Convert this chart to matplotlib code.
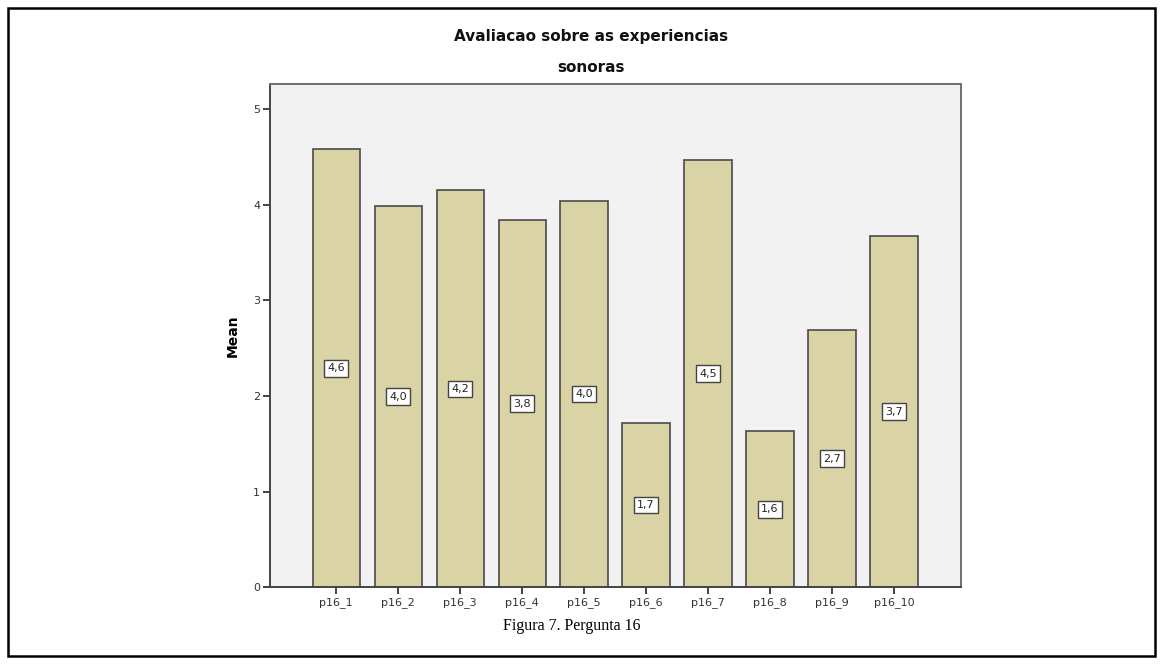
import matplotlib.pyplot as plt
from matplotlib.patches import Rectangle

# Mean score per item of question 16
items = ['p16_1', 'p16_2', 'p16_3', 'p16_4', 'p16_5',
         'p16_6', 'p16_7', 'p16_8', 'p16_9', 'p16_10']
means = [4.58, 3.99, 4.15, 3.84, 4.04, 1.72, 4.47, 1.63, 2.69, 3.67]

bar_color = '#d9d3a5'
edge_color = '#4a4a4a'
spine_color = '#707070'

fig = plt.figure(figsize=(11.63, 6.66), dpi=100)

# outer frame around the whole figure
fig.patches.append(Rectangle((8 / 1163, 1 - 656 / 666), 1147 / 1163, 648 / 666,
                             transform=fig.transFigure, fill=False,
                             edgecolor='black', linewidth=1.8))

ax = fig.add_axes([0.2322, 0.1179, 0.5941, 0.756])
ax.set_facecolor('#f2f2f2')

x = list(range(len(items)))
ax.bar(x, means, width=0.76, color=bar_color, edgecolor=edge_color, linewidth=1.2, zorder=2)

# value boxes at half bar height
for xi, m in zip(x, means):
    ax.text(xi, m / 2, f'{m:.1f}'.replace('.', ','), ha='center', va='center',
            fontsize=8, color='#222222', zorder=3,
            bbox=dict(boxstyle='square,pad=0.3', facecolor='white',
                      edgecolor='#444444', linewidth=1.0))

ax.set_xlim(-1.065, 10.08)
ax.set_ylim(0, 5.26)
ax.set_yticks([0, 1, 2, 3, 4, 5])
ax.set_xticks(x)
ax.set_xticklabels(items)
ax.tick_params(axis='both', direction='out', length=5, width=1.2, color='#222222',
               labelsize=8, labelcolor='#333333', pad=2)

for side in ['top', 'right']:
    ax.spines[side].set_color(spine_color)
    ax.spines[side].set_linewidth(1.4)
for side in ['left', 'bottom']:
    ax.spines[side].set_color('#444444')
    ax.spines[side].set_linewidth(1.4)

ax.set_ylabel('Mean', fontsize=10, fontweight='bold', labelpad=10)

fig.text(0.508, 1 - 37 / 666, 'Avaliacao sobre as experiencias', ha='center', va='center',
         fontsize=11, fontweight='bold', color='#111111')
fig.text(0.508, 1 - 68 / 666, 'sonoras', ha='center', va='center',
         fontsize=11, fontweight='bold', color='#111111')

fig.text(0.492, 1 - 626 / 666, 'Figura 7. Pergunta 16', ha='center', va='center',
         fontsize=11.5, family='Liberation Serif', color='black')

fig.savefig('out.png', dpi=100)
